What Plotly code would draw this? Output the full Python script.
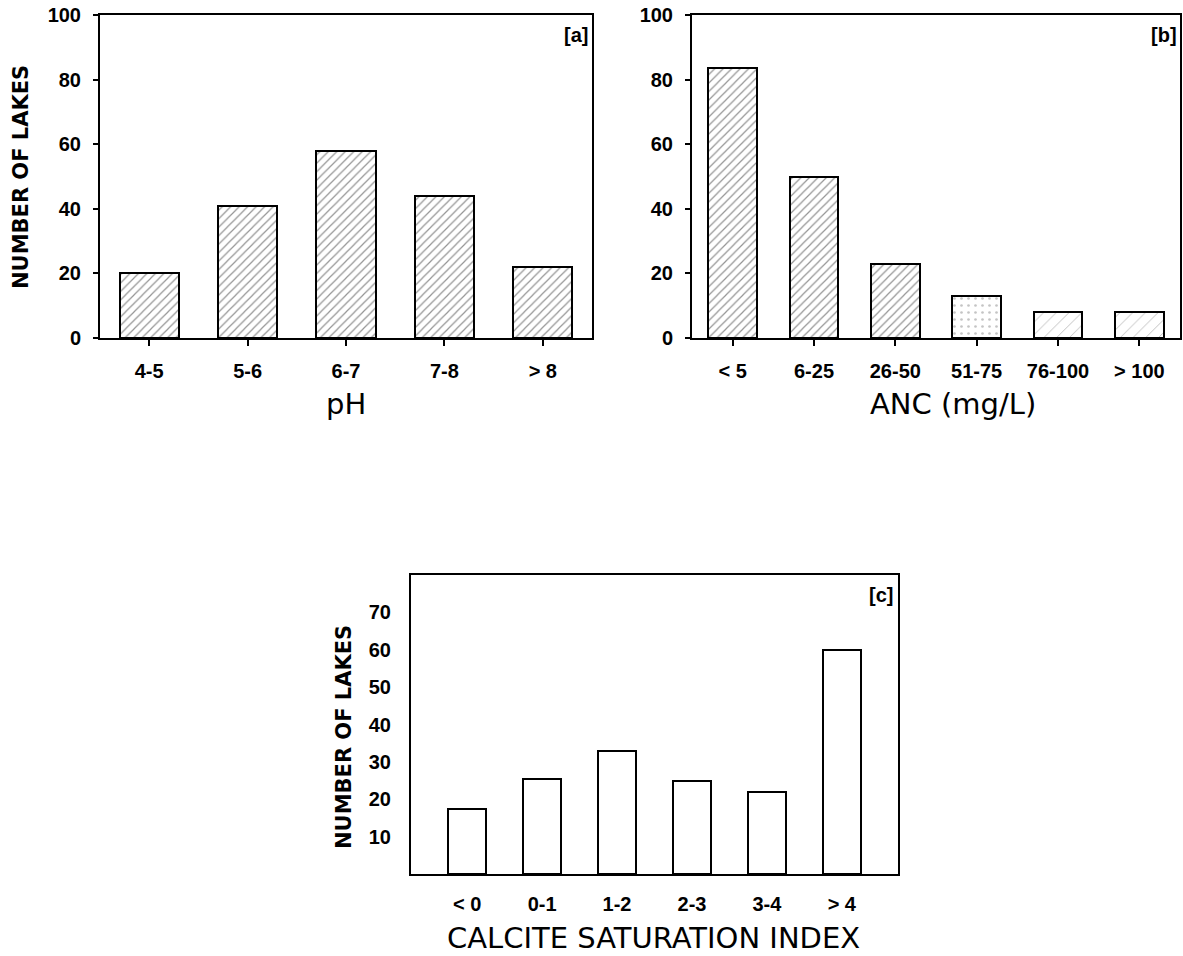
import plotly.graph_objects as go

# Lake counts per class
ph_bins = ["4-5", "5-6", "6-7", "7-8", "> 8"]
ph_lakes = [20, 41, 58, 44, 22]

anc_bins = ["< 5", "6-25", "26-50", "51-75", "76-100", "> 100"]
anc_lakes = [83.5, 50, 23, 13, 8, 8]

csi_bins = ["< 0", "0-1", "1-2", "2-3", "3-4", "> 4"]
csi_lakes = [17.5, 25.5, 33, 25, 22, 60]

W, H = 1183, 956


def fx(p):
    return p / W


def fy(p):
    return 1 - p / H


TICK_FONT = dict(family="Liberation Sans", size=20, color="black", weight="bold")
TITLE_FONT = dict(family="DejaVu Sans", size=29, color="black")
YTITLE_FONT = dict(family="DejaVu Sans", size=21, color="black", weight="bold")
TAG_FONT = dict(family="Liberation Sans", size=20, color="black", weight="bold")

fig = go.Figure()

hatch = dict(shape="/", size=6, solidity=0.2, fgcolor="#2a2a2a", bgcolor="white")
outline = dict(color="black", width=2)

fig.add_trace(go.Bar(
    x=ph_bins, y=ph_lakes, width=0.6, xaxis="x", yaxis="y",
    marker=dict(color="white", line=outline, pattern=hatch),
    showlegend=False,
))

fig.add_trace(go.Bar(
    x=anc_bins, y=anc_lakes, width=0.6, xaxis="x2", yaxis="y2",
    marker=dict(
        color="white", line=outline,
        pattern=dict(
            shape=["/", "/", "/", ".", "/", "/"],
            size=[6, 6, 6, 7, 9, 9],
            solidity=[0.2, 0.2, 0.2, 0.12, 0.1, 0.1],
            fgcolor=["#2a2a2a", "#2a2a2a", "#2a2a2a", "#8a8a8a", "#777777", "#777777"],
            bgcolor="white",
        ),
    ),
    showlegend=False,
))

fig.add_trace(go.Bar(
    x=csi_bins, y=csi_lakes, width=0.5, xaxis="x3", yaxis="y3",
    marker=dict(color="white", line=outline),
    showlegend=False,
))

axis_common = dict(
    showline=True, linecolor="black", linewidth=2, mirror=True,
    ticks="outside", tickcolor="black", tickwidth=1.5, ticklen=6,
    showgrid=False, zeroline=False, tickfont=TICK_FONT, fixedrange=True,
    automargin=False,
)

fig.update_layout(
    width=W, height=H,
    margin=dict(l=0, r=0, t=0, b=0, autoexpand=False),
    paper_bgcolor="white", plot_bgcolor="white",
    bargap=0,
    xaxis=dict(axis_common, domain=[fx(100), fx(592)], anchor="y", type="category",
               range=[-0.5, 4.5], ticklabelstandoff=8),
    yaxis=dict(axis_common, domain=[fy(338), fy(15)], anchor="x", range=[0, 100],
               tickvals=[0, 20, 40, 60, 80, 100], ticklen=5, ticklabelstandoff=8),
    xaxis2=dict(axis_common, domain=[fx(692), fx(1180)], anchor="y2", type="category",
                range=[-0.5, 5.5], ticklabelstandoff=8),
    yaxis2=dict(axis_common, domain=[fy(338), fy(15)], anchor="x2", range=[0, 100],
                tickvals=[0, 20, 40, 60, 80, 100], ticklen=5, ticklabelstandoff=8),
    xaxis3=dict(axis_common, domain=[fx(411), fx(898)], anchor="y3", type="category",
                range=[-0.75, 5.75], ticks="", ticklabelstandoff=11),
    yaxis3=dict(axis_common, domain=[fy(874), fy(575)], anchor="x3", range=[0, 80],
                tickvals=[10, 20, 30, 40, 50, 60, 70], ticks="", ticklabelstandoff=14),
)

annotations = [
    # panel tags
    dict(text="[a]", x=fx(590), y=fy(35), xanchor="right", yanchor="middle", font=TAG_FONT),
    dict(text="[b]", x=fx(1179), y=fy(35), xanchor="right", yanchor="middle", font=TAG_FONT),
    dict(text="[c]", x=fx(895), y=fy(595), xanchor="right", yanchor="middle", font=TAG_FONT),
    # axis titles
    dict(text="pH", x=fx(346), y=fy(404), xanchor="center", yanchor="middle", font=TITLE_FONT),
    dict(text="ANC (mg/L)", x=fx(953), y=fy(404), xanchor="center", yanchor="middle", font=TITLE_FONT),
    dict(text="CALCITE SATURATION INDEX", x=fx(653), y=fy(938), xanchor="center",
         yanchor="middle", font=TITLE_FONT),
    dict(text="NUMBER OF LAKES", x=fx(21), y=fy(177), textangle=-90, xanchor="center",
         yanchor="middle", font=YTITLE_FONT),
    dict(text="NUMBER OF LAKES", x=fx(344), y=fy(737), textangle=-90, xanchor="center",
         yanchor="middle", font=YTITLE_FONT),
]
for a in annotations:
    a.update(xref="paper", yref="paper", showarrow=False)
fig.update_layout(annotations=annotations)

fig.write_html("out.html", config={"displayModeBar": False})
